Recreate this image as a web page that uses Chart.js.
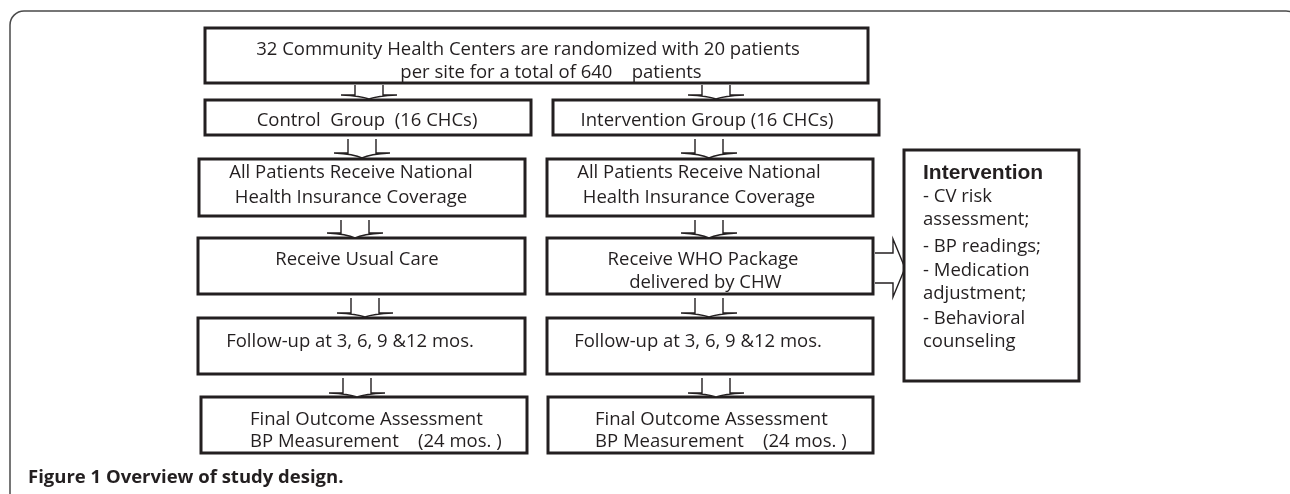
<!DOCTYPE html>
<html>
<head>
<meta charset="utf-8">
<script src="https://cdn.jsdelivr.net/npm/chart.js@4.4.1/dist/chart.umd.min.js"></script>
<style>
  body { margin: 0; background: #fff; }
  #flow { display: block; }
</style>
</head>
<body>
<canvas id="flow" width="1290" height="494"></canvas>
<script>
// texts of the flow chart
const topText = ['32 Community Health Centers are randomized with 20 patients', 'per site for a total of 640    patients'];
const controlSteps = [
  ['Control  Group  (16 CHCs)'],
  ['All Patients Receive National', 'Health Insurance Coverage'],
  ['Receive Usual Care'],
  ['Follow-up at 3, 6, 9 &12 mos.'],
  ['Final Outcome Assessment', 'BP Measurement    (24 mos. )'],
];
const interventionSteps = [
  ['Intervention Group (16 CHCs)'],
  ['All Patients Receive National', 'Health Insurance Coverage'],
  ['Receive WHO Package', ' delivered by CHW'],
  ['Follow-up at 3, 6, 9 &12 mos.'],
  ['Final Outcome Assessment', 'BP Measurement    (24 mos. )'],
];
const sideTitle = 'Intervention';
const sideItems = ['- CV risk', 'assessment;', '- BP readings;', '- Medication', 'adjustment;', '- Behavioral', 'counseling'];
const caption = 'Figure 1 Overview of study design.';

// layout in chart units (x 0..1290, y 0..494 top-down)
const topBox = { x0: 205, x1: 868, y0: 28, y1: 83, tx: [528, 551], ty: [50, 73] };
const rows = [
  { y0: 100, y1: 135, L: [205, 531], R: [553, 879], tx: [367, 707], ty: [121], align: 'center' },
  { y0: 159, y1: 216, L: [199, 525], R: [547, 873], tx: [351, 699], ty: [173, 198], align: 'center' },
  { y0: 238, y1: 294, L: [198, 525], R: [547, 873], tx: [357, 703], ty: [260, 283], align: 'center' },
  { y0: 318, y1: 374, L: [198, 525], R: [547, 873], tx: [350, 698], ty: [342], align: 'center' },
  { y0: 397, y1: 453, L: [201, 527], R: [548, 873], tx: [250, 595], ty: [420, 442], align: 'left' },
];
const downArrows = [
  { top: 83, head: 95, tip: 99, L: 369, R: 716 },
  { top: 137, head: 153, tip: 158, L: 362, R: 709 },
  { top: 218, head: 233, tip: 238, L: 355, R: 709 },
  { top: 296, head: 313, tip: 317, L: 365, R: 709 },
  { top: 376, head: 393, tip: 397, L: 357, R: 716 },
];
const sideBox = { x0: 904, x1: 1079, y0: 150, y1: 381, tx: 923, ty: [173, 197, 220, 247, 271, 294, 319, 342] };

const ink = '#231f20';
const bodyFont = '18.5px "Open Sans"';

const flowPlugin = {
  id: 'flow',
  beforeDraw(chart) {
    const ctx = chart.ctx;
    ctx.save();
    ctx.fillStyle = '#fff';
    ctx.fillRect(0, 0, chart.width, chart.height);
    ctx.restore();
  },
  afterDraw(chart) {
    const { ctx, scales: { x, y } } = chart;
    const px = (v) => x.getPixelForValue(v);
    const py = (v) => y.getPixelForValue(v);

    ctx.save();
    // outer frame
    ctx.strokeStyle = '#4a4a4a';
    ctx.lineWidth = 1.5;
    ctx.beginPath();
    ctx.roundRect(px(10), py(11), px(1300) - px(10), py(700) - py(11), 14);
    ctx.stroke();

    function box(x0, x1, y0, y1) {
      ctx.lineWidth = 3;
      ctx.strokeStyle = ink;
      ctx.fillStyle = '#fff';
      ctx.fillRect(px(x0), py(y0), px(x1) - px(x0), py(y1) - py(y0));
      ctx.strokeRect(px(x0), py(y0), px(x1) - px(x0), py(y1) - py(y0));
    }
    function text(lines, tx, tys, align) {
      ctx.fillStyle = ink;
      ctx.font = bodyFont;
      ctx.textAlign = align;
      ctx.textBaseline = 'middle';
      lines.forEach((s, i) => ctx.fillText(s, px(Array.isArray(tx) ? tx[i] : tx), py(tys[i])));
    }
    function arrowPath(cx, top, head, tip) {
      const sw = 14, hw = 28;
      ctx.beginPath();
      ctx.moveTo(px(cx - sw), py(top));
      ctx.lineTo(px(cx - sw), py(head));
      ctx.lineTo(px(cx - hw), py(head));
      ctx.quadraticCurveTo(px(cx - 8), py(head + 1), px(cx), py(tip));
      ctx.quadraticCurveTo(px(cx + 8), py(head + 1), px(cx + hw), py(head));
      ctx.lineTo(px(cx + sw), py(head));
      ctx.lineTo(px(cx + sw), py(top));
    }
    function downArrow(cx, top, head, tip) {
      ctx.lineWidth = 1.4;
      ctx.strokeStyle = ink;
      ctx.fillStyle = '#fff';
      arrowPath(cx, top + 2, head, tip);
      ctx.fill();
      arrowPath(cx, top + 2, head, tip);
      ctx.stroke();
    }

    // boxes
    box(topBox.x0, topBox.x1, topBox.y0, topBox.y1);
    text(topText, topBox.tx, topBox.ty, 'center');
    rows.forEach((r, i) => {
      box(r.L[0], r.L[1], r.y0, r.y1);
      box(r.R[0], r.R[1], r.y0, r.y1);
      text(controlSteps[i], r.tx[0], r.ty, r.align);
      text(interventionSteps[i], r.tx[1], r.ty, r.align);
    });
    downArrows.forEach((a) => {
      downArrow(a.L, a.top, a.head, a.tip);
      downArrow(a.R, a.top, a.head, a.tip);
    });

    // side arrow to the intervention box
    ctx.lineWidth = 1.4;
    ctx.strokeStyle = ink;
    ctx.fillStyle = '#fff';
    ctx.beginPath();
    ctx.moveTo(px(875), py(253));
    ctx.lineTo(px(893), py(253));
    ctx.lineTo(px(893), py(239));
    ctx.lineTo(px(905), py(268));
    ctx.lineTo(px(893), py(297));
    ctx.lineTo(px(893), py(283));
    ctx.lineTo(px(875), py(283));
    ctx.fill();
    ctx.stroke();

    box(sideBox.x0, sideBox.x1, sideBox.y0, sideBox.y1);
    ctx.fillStyle = ink;
    ctx.textAlign = 'left';
    ctx.textBaseline = 'middle';
    ctx.font = 'bold 21px "Liberation Sans"';
    ctx.fillText(sideTitle, px(sideBox.tx), py(sideBox.ty[0]));
    ctx.font = bodyFont;
    sideItems.forEach((s, i) => ctx.fillText(s, px(sideBox.tx), py(sideBox.ty[i + 1])));

    // caption
    ctx.font = 'bold 18.5px "Open Sans"';
    ctx.fillText(caption, px(28), py(478));
    ctx.restore();
  },
};

const chart = new Chart(document.getElementById('flow').getContext('2d'), {
  type: 'scatter',
  data: { datasets: [{ data: [] }] },
  options: {
    responsive: false,
    animation: false,
    devicePixelRatio: 1,
    layout: { padding: 0 },
    plugins: { legend: { display: false }, tooltip: { enabled: false } },
    scales: {
      x: { type: 'linear', min: 0, max: 1290, display: false },
      y: { type: 'linear', min: 0, max: 494, reverse: true, display: false },
    },
  },
  plugins: [flowPlugin],
});
</script>
</body>
</html>
